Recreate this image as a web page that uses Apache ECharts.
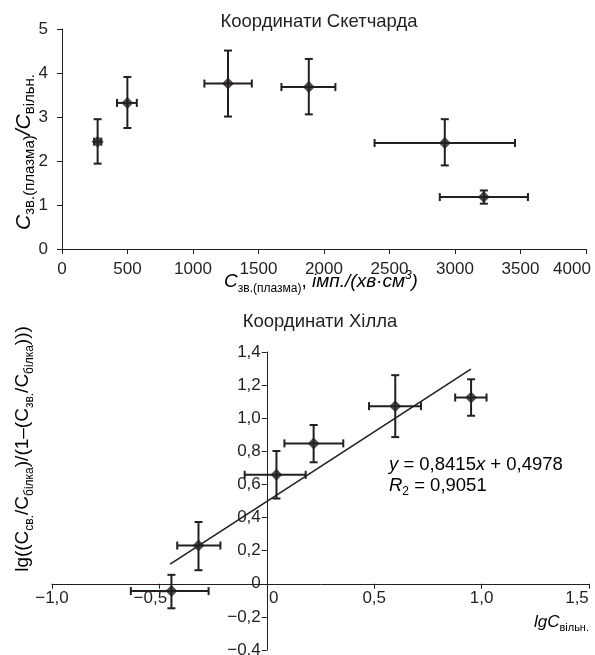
<!DOCTYPE html>
<html>
<head>
<meta charset="utf-8">
<script src="https://cdn.jsdelivr.net/npm/echarts@6/dist/echarts.min.js"></script>
<style>html,body{margin:0;padding:0;background:#fff}#c{width:595px;height:655px}</style>
</head>
<body>
<div id="c"></div>
<script>
// ---- Scatchard chart data ----
const scatX = [272, 499, 1267, 1884, 2922, 3220];
const scatY = [2.44, 3.32, 3.76, 3.68, 2.41, 1.18];
const scatXLow = [245, 420, 1087, 1675, 2386, 2884];
const scatXHigh = [300, 571, 1449, 2087, 3458, 3557];
const scatYLow = [1.94, 2.75, 3.01, 3.06, 1.90, 1.03];
const scatYHigh = [2.95, 3.91, 4.51, 4.32, 2.95, 1.33];
const scatXRange = [0, 4000, 500];
const scatYRange = [0, 5, 1];

// ---- Hill chart data ----
const hillX = [-0.444, -0.318, 0.045, 0.218, 0.598, 0.951];
const hillY = [-0.044, 0.231, 0.658, 0.848, 1.073, 1.125];
const hillXLow = [-0.633, -0.417, -0.103, 0.082, 0.476, 0.877];
const hillXHigh = [-0.271, -0.216, 0.181, 0.356, 0.718, 1.023];
const hillYLow = [-0.148, 0.082, 0.515, 0.734, 0.886, 1.015];
const hillYHigh = [0.054, 0.373, 0.802, 0.959, 1.260, 1.235];
const hillXRange = [-1, 1.5, 0.5];
const hillYRange = [-0.4, 1.4, 0.2];

// trend line endpoints (y = 0,8415x + 0,4978)
const trendX = [-0.45, 0.95];
const trendY = [0.119, 1.297];

const titleTop = 'Координати Скетчарда';
const titleBottom = 'Координати Хілла';

const INK = '#231f20';
const FONT = '"Liberation Sans", Arial, Helvetica, sans-serif';
const FS = 17;

// grid geometry (pixels)
const G2 = { left: 52, top: 352, width: 537, height: 298 };

function rows(x, y, xl, xh, yl, yh) {
  return x.map((v, i) => [v, y[i], xl[i], xh[i], yl[i], yh[i]]);
}

function errRender(params, api) {
  const x = api.value(0), y = api.value(1);
  const pL = api.coord([api.value(2), y]);
  const pR = api.coord([api.value(3), y]);
  const pB = api.coord([x, api.value(4)]);
  const pT = api.coord([x, api.value(5)]);
  const c = 4;
  const st = { stroke: INK, lineWidth: 2 };
  const ln = (x1, y1, x2, y2) => ({ type: 'line', shape: { x1, y1, x2, y2 }, style: st });
  return {
    type: 'group',
    children: [
      ln(pL[0], pL[1], pR[0], pR[1]),
      ln(pL[0], pL[1] - c, pL[0], pL[1] + c),
      ln(pR[0], pR[1] - c, pR[0], pR[1] + c),
      ln(pB[0], pB[1], pT[0], pT[1]),
      ln(pB[0] - c, pB[1], pB[0] + c, pB[1]),
      ln(pT[0] - c, pT[1], pT[0] + c, pT[1])
    ]
  };
}

function commaFmt(v) {
  if (Math.abs(v) < 1e-9) return '0';
  return v.toFixed(1).replace('.', ',').replace('-', '−');
}

const labelBase = { fontSize: FS, fontFamily: FONT, color: INK };
const axisLineStyle = { lineStyle: { color: INK, width: 1 } };

function makeRich(main, sub) {
  const lh = Math.round(main * 1.3);
  return {
    i: { fontSize: main, fontFamily: FONT, fontStyle: 'italic', color: INK, lineHeight: lh, verticalAlign: 'middle' },
    n: { fontSize: main, fontFamily: FONT, color: INK, lineHeight: lh, verticalAlign: 'middle' },
    s: { fontSize: sub, fontFamily: FONT, color: INK, lineHeight: lh, verticalAlign: 'bottom' },
    sup: { fontSize: sub, fontFamily: FONT, fontStyle: 'italic', color: INK, lineHeight: lh, verticalAlign: 'top' }
  };
}

// position of zero-crossing axes for the Hill chart
const hillYAxisOffset = -((0 - hillXRange[0]) / (hillXRange[1] - hillXRange[0])) * G2.width;
const hillXAxisOffset = -((0 - hillYRange[0]) / (hillYRange[1] - hillYRange[0])) * G2.height;

const chart = echarts.init(document.getElementById('c'));
chart.setOption({
  animation: false,
  backgroundColor: '#fff',
  grid: [
    { left: 62, top: 29, width: 524, height: 220, outerBoundsMode: 'none' },
    Object.assign({ outerBoundsMode: 'none' }, G2)
  ],
  xAxis: [
    {
      type: 'value', gridIndex: 0, min: scatXRange[0], max: scatXRange[1], interval: scatXRange[2],
      axisLine: axisLineStyle, axisTick: { length: 5, lineStyle: { color: INK } },
      splitLine: { show: false },
      axisLabel: Object.assign({}, labelBase, {
        margin: 12,
        formatter: v => v === 4000 ? '{r|4000}' : String(v),
        rich: { r: Object.assign({}, labelBase, { padding: [0, 28, 0, 0] }) }
      })
    },
    {
      type: 'value', gridIndex: 1, min: hillXRange[0], max: hillXRange[1], interval: hillXRange[2],
      position: 'bottom', offset: hillXAxisOffset,
      axisLine: Object.assign({ onZero: false }, axisLineStyle),
      axisTick: { length: 5, lineStyle: { color: INK } },
      splitLine: { show: false },
      axisLabel: Object.assign({}, labelBase, {
        margin: 6,
        formatter: v => {
          const t = commaFmt(v);
          if (Math.abs(v) < 1e-9) return '{z|' + t + '}';
          if (Math.abs(v + 0.5) < 1e-9) return '{m|' + t + '}';
          if (Math.abs(v - 1.5) < 1e-9) return '{r|' + t + '}';
          return t;
        },
        rich: {
          z: Object.assign({}, labelBase, { padding: [0, 0, 0, 14] }),
          m: Object.assign({}, labelBase, { padding: [0, 18, 0, 0] }),
          r: Object.assign({}, labelBase, { padding: [0, 24, 0, 0] })
        }
      })
    }
  ],
  yAxis: [
    {
      type: 'value', gridIndex: 0, min: scatYRange[0], max: scatYRange[1], interval: scatYRange[2],
      axisLine: Object.assign({ show: true }, axisLineStyle),
      axisTick: { show: true, length: 5, lineStyle: { color: INK } },
      splitLine: { show: false },
      axisLabel: Object.assign({}, labelBase, { margin: 14 })
    },
    {
      type: 'value', gridIndex: 1, min: hillYRange[0], max: hillYRange[1], interval: hillYRange[2],
      position: 'left', offset: hillYAxisOffset,
      axisLine: Object.assign({ show: true, onZero: false }, axisLineStyle),
      axisTick: { show: true, length: 5, lineStyle: { color: INK } },
      splitLine: { show: false },
      axisLabel: Object.assign({}, labelBase, { margin: 6, formatter: commaFmt })
    }
  ],
  series: [
    {
      type: 'custom', xAxisIndex: 0, yAxisIndex: 0,
      data: rows(scatX, scatY, scatXLow, scatXHigh, scatYLow, scatYHigh),
      encode: { x: 0, y: 1 }, renderItem: errRender, z: 2
    },
    {
      type: 'scatter', xAxisIndex: 0, yAxisIndex: 0,
      data: scatX.map((v, i) => [v, scatY[i]]),
      symbol: 'diamond', symbolSize: 12, itemStyle: { color: INK }, z: 3
    },
    {
      type: 'line', xAxisIndex: 1, yAxisIndex: 1,
      data: trendX.map((v, i) => [v, trendY[i]]),
      showSymbol: false, symbol: 'none', lineStyle: { color: INK, width: 1.6 }, z: 2
    },
    {
      type: 'custom', xAxisIndex: 1, yAxisIndex: 1,
      data: rows(hillX, hillY, hillXLow, hillXHigh, hillYLow, hillYHigh),
      encode: { x: 0, y: 1 }, renderItem: errRender, z: 2
    },
    {
      type: 'scatter', xAxisIndex: 1, yAxisIndex: 1,
      data: hillX.map((v, i) => [v, hillY[i]]),
      symbol: 'diamond', symbolSize: 12, itemStyle: { color: INK }, z: 3
    }
  ],
  graphic: [
    { type: 'text', x: 319, y: 22, style: { text: titleTop, fontSize: 18.5, fontFamily: FONT, fill: INK, align: 'center', verticalAlign: 'middle' } },
    { type: 'text', x: 320, y: 322, style: { text: titleBottom, fontSize: 18.5, fontFamily: FONT, fill: INK, align: 'center', verticalAlign: 'middle' } },
    { type: 'text', x: 321, y: 282, style: { text: '{i|C}{s|зв.(плазма)}{n|, }{i|імп./(хв·см}{sup|3}{i|)}', rich: makeRich(19, 12), align: 'center', verticalAlign: 'middle' } },
    { type: 'text', x: 24, y: 152, rotation: Math.PI / 2, style: { text: '{i|C}{s|зв.(плазма)}{i|/C}{s|вільн.}', rich: makeRich(21, 15), align: 'center', verticalAlign: 'middle' } },
    { type: 'text', x: 589, y: 622, style: { text: '{i|lgC}{s|вільн.}', rich: makeRich(17, 11), align: 'right', verticalAlign: 'middle' } },
    { type: 'text', x: 23, y: 449, rotation: Math.PI / 2, style: { text: '{n|lg((C}{s|св.}{n|/C}{s|білка}{n|)/(1–(C}{s|зв.}{n|/C}{s|білка}{n|)))}', rich: makeRich(19, 12), align: 'center', verticalAlign: 'middle' } },
    { type: 'text', x: 389, y: 465, style: { text: '{i|y}{n| = 0,8415}{i|x}{n| + 0,4978}', rich: makeRich(18.5, 12), align: 'left', verticalAlign: 'middle' } },
    { type: 'text', x: 389, y: 486, style: { text: '{i|R}{s|2}{n| = 0,9051}', rich: makeRich(18.5, 12), align: 'left', verticalAlign: 'middle' } }
  ]
});
</script>
</body>
</html>
